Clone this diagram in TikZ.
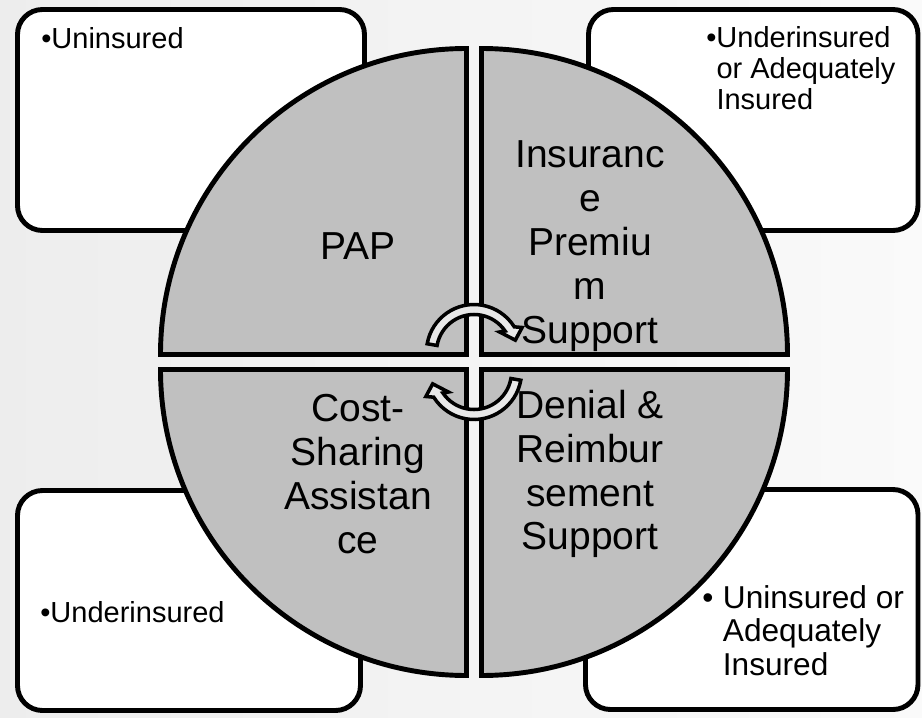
\documentclass[tikz,border=0pt]{standalone}
\usepackage{fontspec}
\setmainfont{Liberation Sans}
\usepackage{tikz}
\usetikzlibrary{calc}
\definecolor{quadfill}{RGB}{192,192,192}
\definecolor{cycfill}{RGB}{232,232,232}

\begin{document}
\begin{tikzpicture}[
    infobox/.style={line width=2.8pt, rounded corners=0.5cm, fill=white},
    quad/.style={line width=2.8pt, fill=quadfill, line join=miter},
    cyc/.style={line width=2pt, fill=cycfill, line join=miter},
    bigtext/.style={align=center, inner sep=0pt, font=\fontsize{22.2}{25}\selectfont},
    smalltext/.style={anchor=north west, align=left, inner sep=0pt, font=\fontsize{16.5}{17.6}\selectfont}]
    \useasboundingbox[shade, left color=black!7, right color=black!2] (-9.48,-7.10) rectangle (8.96,7.24);

    \draw[infobox] (-9.13,2.63) rectangle (-2.19,7.05);
    \draw[infobox] (2.29,2.63) rectangle (8.88,7.05);
    \draw[infobox] (-9.13,-6.97) rectangle (-2.27,-2.57);
    \draw[infobox] (2.23,-6.95) rectangle (8.88,-2.55);

    \foreach \sx/\sy/\a in {-1/1/90, 1/1/0, 1/-1/270, -1/-1/180}
        \draw[quad] (\sx*0.15,\sy*0.15) -- ++(\a:6.12) arc[start angle=\a, delta angle=90, radius=6.12] -- cycle;

    \foreach \r in {0,180} {
        \begin{scope}[rotate=\r, shift={(0,0.2)}]
            \draw[cyc] (170:0.95) arc[start angle=170, end angle=32, radius=0.95] -- (27:1.08) -- (16:0.86) -- (38:0.65) -- (34:0.75) arc[start angle=34, end angle=170, radius=0.75] -- cycle;
        \end{scope}
    }

    \node[bigtext] (pap) at (-2.32,2.32) {PAP};
    \node[bigtext] (premium) at (2.32,2.32) {Insuranc\\e\\Premiu\\m\\Support};
    \node[bigtext] (costshare) at (-2.32,-2.24) {Cost-\\Sharing\\Assistan\\ce};
    \node[bigtext] (denial) at (2.32,-2.24) {Denial \&\\Reimbur\\sement\\Support};

    \node[smalltext] (papwho) at (-8.66,6.70) {•Uninsured};
    \node[smalltext] (premwho) at (4.64,6.72) {•Underinsured\\\phantom{•}or Adequately\\\phantom{•}Insured};
    \node[smalltext] (costwho) at (-8.68,-4.78) {•Underinsured};
    \node[smalltext, font=\fontsize{18}{19}\selectfont] (denwho) at (4.56,-4.46) {•\hspace{0.3em}Uninsured or\\\phantom{•\hspace{0.3em}}Adequately\\\phantom{•\hspace{0.3em}}Insured};
\end{tikzpicture}
\end{document}
